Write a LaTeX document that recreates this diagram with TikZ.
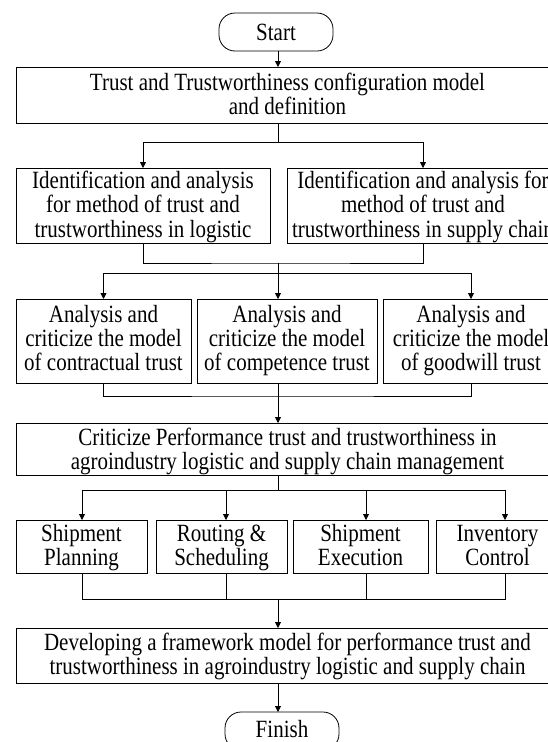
\documentclass[tikz,border=0pt]{standalone}
\usepackage{fontspec}
\usepackage{graphicx}
\setmainfont{Liberation Serif}
\usetikzlibrary{arrows.meta}
% #1 = downward shift of the text inside its box (total size unchanged)
\newcommand{\vtxt}[2][2pt]{\raisebox{0pt}[\dimexpr\height+#1\relax][\dimexpr\depth-#1\relax]{\scalebox{1}[1.18]{\begin{tabular}{@{}c@{}}#2\end{tabular}}}}
\tikzset{
  box/.style={draw=black, line width=0.8pt, rectangle, inner sep=0pt, outer sep=0pt,
    font=\fontsize{21}{19.5}\selectfont},
  term/.style={box, rounded corners=16pt, minimum width=114pt, minimum height=38pt},
  conn/.style={draw=black, line width=0.8pt},
  arr/.style={conn, -{Triangle[length=6pt,width=6pt]}},
}
\begin{document}
\begin{tikzpicture}[x=1pt,y=-1pt]
\useasboundingbox (0,0) rectangle (548,742);
\fill[white] (0,0) rectangle (548,742);
\clip (0,0) rectangle (548,742);
% nodes
\node[term] (start) at (276,32) {\vtxt[4pt]{Start}};
\node[box, minimum width=543pt, minimum height=56pt] (b1) at (287.5,95)
  {\vtxt{Trust and Trustworthiness configuration model\\and definition}};
\node[box, minimum width=254pt, minimum height=75pt] (l2a) at (143,205.5)
  {\vtxt{Identification and analysis\\for method of trust and\\trustworthiness in logistic}};
\node[box, minimum width=272pt, minimum height=75pt] (l2b) at (423,205.5)
  {\vtxt{Identification and analysis for\\method of trust and\\trustworthiness in supply chain}};
\node[box, minimum width=175pt, minimum height=84pt] (l3a) at (103.5,341)
  {\vtxt[0.5pt]{Analysis and\\criticize the model\\of contractual trust}};
\node[box, minimum width=180pt, minimum height=84pt] (l3b) at (287,341)
  {\vtxt[0.5pt]{Analysis and\\criticize the model\\of competence trust}};
\node[box, minimum width=176pt, minimum height=84pt] (l3c) at (471,341)
  {\vtxt[0.5pt]{Analysis and\\criticize the model\\of goodwill trust}};
\node[box, minimum width=543pt, minimum height=52pt] (b4) at (287.5,449)
  {\vtxt[3.5pt]{Criticize Performance trust and trustworthiness in\\agroindustry logistic and supply chain management}};
\node[box, minimum width=131pt, minimum height=53pt] (l5a) at (81.5,546.5)
  {\vtxt{Shipment\\Planning}};
\node[box, minimum width=131pt, minimum height=53pt] (l5b) at (221.5,546.5)
  {\vtxt{Routing \&\\Scheduling}};
\node[box, minimum width=135pt, minimum height=53pt] (l5c) at (360.5,546.5)
  {\vtxt{Shipment\\Execution}};
\node[box, minimum width=123pt, minimum height=53pt] (l5d) at (497.5,546.5)
  {\vtxt{Inventory\\Control}};
\node[box, minimum width=543pt, minimum height=55pt] (b6) at (287.5,655.5)
  {\vtxt{Developing a framework model for performance trust and\\trustworthiness in agroindustry logistic and supply chain}};
\node[term] (finish) at (282,731) {\vtxt[1pt]{Finish}};
% connector x positions
\coordinate (xm) at (278,0);
\coordinate (xa) at (82,0);
\coordinate (xb) at (226,0);
\coordinate (xc) at (366,0);
\coordinate (xd) at (505,0);
% start -> b1
\draw[arr] (start.south -| xm) -- (b1.north -| xm);
% b1 -> level 2
\coordinate (s1) at (278,142);
\draw[conn] (b1.south -| xm) -- (s1);
\draw[arr] (s1) -| (l2a.north);
\draw[arr] (s1) -| (l2b.north);
% level 2 -> level 3
\coordinate (j2) at (278,263);
\coordinate (s2) at (278,273);
\draw[conn] (l2a.south) |- (j2) -| (l2b.south);
\draw[conn] (j2) -- (s2);
\draw[arr] (s2) -| (l3a.north);
\draw[arr] (s2) -- (l3b.north -| xm);
\draw[arr] (s2) -| (l3c.north);
% level 3 -> b4
\coordinate (j3) at (278,396);
\draw[conn] (l3a.south) |- (j3) -| (l3c.south);
\draw[conn] (l3b.south -| xm) -- (j3);
\draw[arr] (j3) -- (b4.north -| xm);
% b4 -> level 5
\coordinate (s4) at (278,490);
\draw[conn] (b4.south -| xm) -- (s4);
\draw[conn] (s4 -| xa) -- (s4 -| xd);
\draw[arr] (s4 -| xa) -- (l5a.north -| xa);
\draw[arr] (s4 -| xb) -- (l5b.north -| xb);
\draw[arr] (s4 -| xc) -- (l5c.north -| xc);
\draw[arr] (s4 -| xd) -- (l5d.north -| xd);
% level 5 -> b6
\coordinate (j5) at (278,599);
\draw[conn] (l5a.south -| xa) -- (j5 -| xa) -- (j5 -| xd) -- (l5d.south -| xd);
\draw[conn] (l5b.south -| xb) -- (j5 -| xb);
\draw[conn] (l5c.south -| xc) -- (j5 -| xc);
\draw[arr] (j5) -- (b6.north -| xm);
% b6 -> finish
\draw[arr] (b6.south -| xm) -- (finish.north -| xm);
\end{tikzpicture}
\end{document}
